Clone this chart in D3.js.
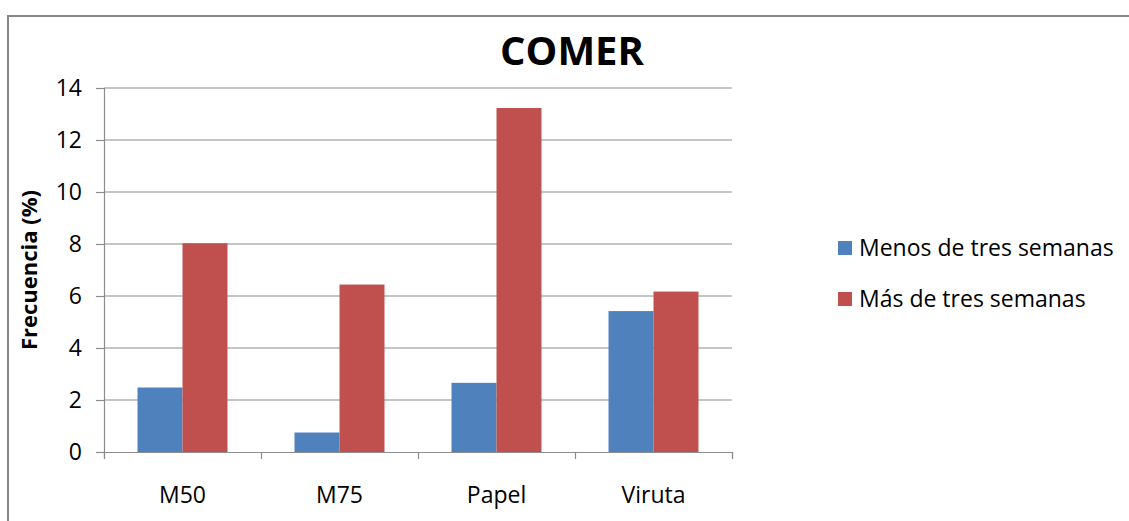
<!DOCTYPE html>
<html>
<head>
<meta charset="utf-8">
<script src="https://cdn.jsdelivr.net/npm/d3@7"></script>
<style>
  html, body { margin: 0; padding: 0; background: #fff; }
  svg { display: block; }
  text { font-family: "Open Sans", "Noto Sans", sans-serif; fill: #000; }
</style>
</head>
<body>
<svg id="chart" width="1129" height="521"></svg>
<script>
// Frequency (%) of the "comer" behaviour per substrate, split by age group
const categories = ["M50", "M75", "Papel", "Viruta"];
const seriesNames = ["Menos de tres semanas", "Más de tres semanas"];
const menosDeTres = [2.48, 0.75, 2.66, 5.42];
const masDeTres = [8.03, 6.44, 13.23, 6.17];
const yTicks = [0, 2, 4, 6, 8, 10, 12, 14];
const colors = ["#4F81BD", "#C0504D"];

const series = [menosDeTres, masDeTres];
const svg = d3.select("#chart");

// outer chart frame
svg.append("rect")
  .attr("x", 8).attr("y", 16)
  .attr("width", 1140).attr("height", 520)
  .attr("fill", "#fff")
  .attr("stroke", "#878787").attr("stroke-width", 2);

const plot = { left: 104, right: 732, top: 88, bottom: 452 };

const y = d3.scaleLinear().domain([0, 14]).range([plot.bottom, plot.top]);
const x = d3.scaleBand().domain(categories).range([plot.left, plot.right]).paddingInner(0).paddingOuter(0);
const xInner = d3.scaleBand().domain(d3.range(series.length))
  .range([0, x.bandwidth()]).paddingOuter(0.745).paddingInner(0);
const xEdges = d3.scaleLinear().domain([0, categories.length]).range([plot.left, plot.right]);

// horizontal gridlines
svg.append("g")
  .selectAll("line")
  .data(yTicks.filter(d => d > 0))
  .join("line")
  .attr("x1", plot.left).attr("x2", plot.right)
  .attr("y1", d => y(d)).attr("y2", d => y(d))
  .attr("stroke", "#8c8c8c").attr("stroke-width", 1.2);

// bars
const groups = svg.append("g")
  .selectAll("g")
  .data(categories)
  .join("g")
  .attr("transform", d => `translate(${x(d)},0)`);

groups.selectAll("rect")
  .data((d, i) => series.map((s, j) => ({ j, v: s[i] })))
  .join("rect")
  .attr("x", d => xInner(d.j))
  .attr("width", xInner.bandwidth())
  .attr("y", d => y(d.v))
  .attr("height", d => y(0) - y(d.v))
  .attr("fill", d => colors[d.j]);

// y axis
const yAxis = svg.append("g")
  .attr("transform", `translate(${plot.left},0)`)
  .call(d3.axisLeft(y).tickValues(yTicks).tickSize(8).tickPadding(14).tickFormat(d3.format("d")));
yAxis.select(".domain").attr("stroke", "#8c8c8c").attr("stroke-width", 1.2);
yAxis.selectAll(".tick line").attr("stroke", "#8c8c8c").attr("stroke-width", 1.2);
yAxis.selectAll("text").style("font-size", "23px").style("font-family", "'Open Sans', sans-serif").attr("fill", "#000");

// x axis: boundary ticks
const xTickAxis = svg.append("g")
  .attr("transform", `translate(0,${plot.bottom})`)
  .call(d3.axisBottom(xEdges).tickValues(d3.range(categories.length + 1)).tickSize(7).tickFormat(""));
xTickAxis.select(".domain").attr("stroke", "#8c8c8c").attr("stroke-width", 1.2);
xTickAxis.selectAll(".tick line").attr("stroke", "#8c8c8c").attr("stroke-width", 1.2);

// x axis: category labels
const xLabelAxis = svg.append("g")
  .attr("transform", `translate(0,${plot.bottom})`)
  .call(d3.axisBottom(x).tickSize(0).tickPadding(51));
xLabelAxis.select(".domain").remove();
xLabelAxis.selectAll("text")
  .attr("dy", 0)
  .style("font-size", "23px").style("font-family", "'Open Sans', sans-serif").attr("fill", "#000");

// title
svg.append("text")
  .attr("x", 572).attr("y", 65)
  .attr("text-anchor", "middle")
  .style("font-size", "40px").style("font-weight", "bold")
  .text("COMER");

// y axis title
svg.append("text")
  .attr("transform", `translate(37,${(plot.top + plot.bottom) / 2}) rotate(-90)`)
  .attr("text-anchor", "middle")
  .style("font-size", "22px").style("font-weight", "bold")
  .text("Frecuencia (%)");

// legend
const legend = svg.append("g")
  .selectAll("g")
  .data(seriesNames)
  .join("g")
  .attr("transform", (d, i) => `translate(838,${248 + i * 51})`);
legend.append("rect")
  .attr("x", 0).attr("y", -7).attr("width", 14).attr("height", 14)
  .attr("fill", (d, i) => colors[i]);
legend.append("text")
  .attr("x", 21).attr("y", 0).attr("dy", "0.35em")
  .style("font-size", "23px")
  .text(d => d);
</script>
</body>
</html>
